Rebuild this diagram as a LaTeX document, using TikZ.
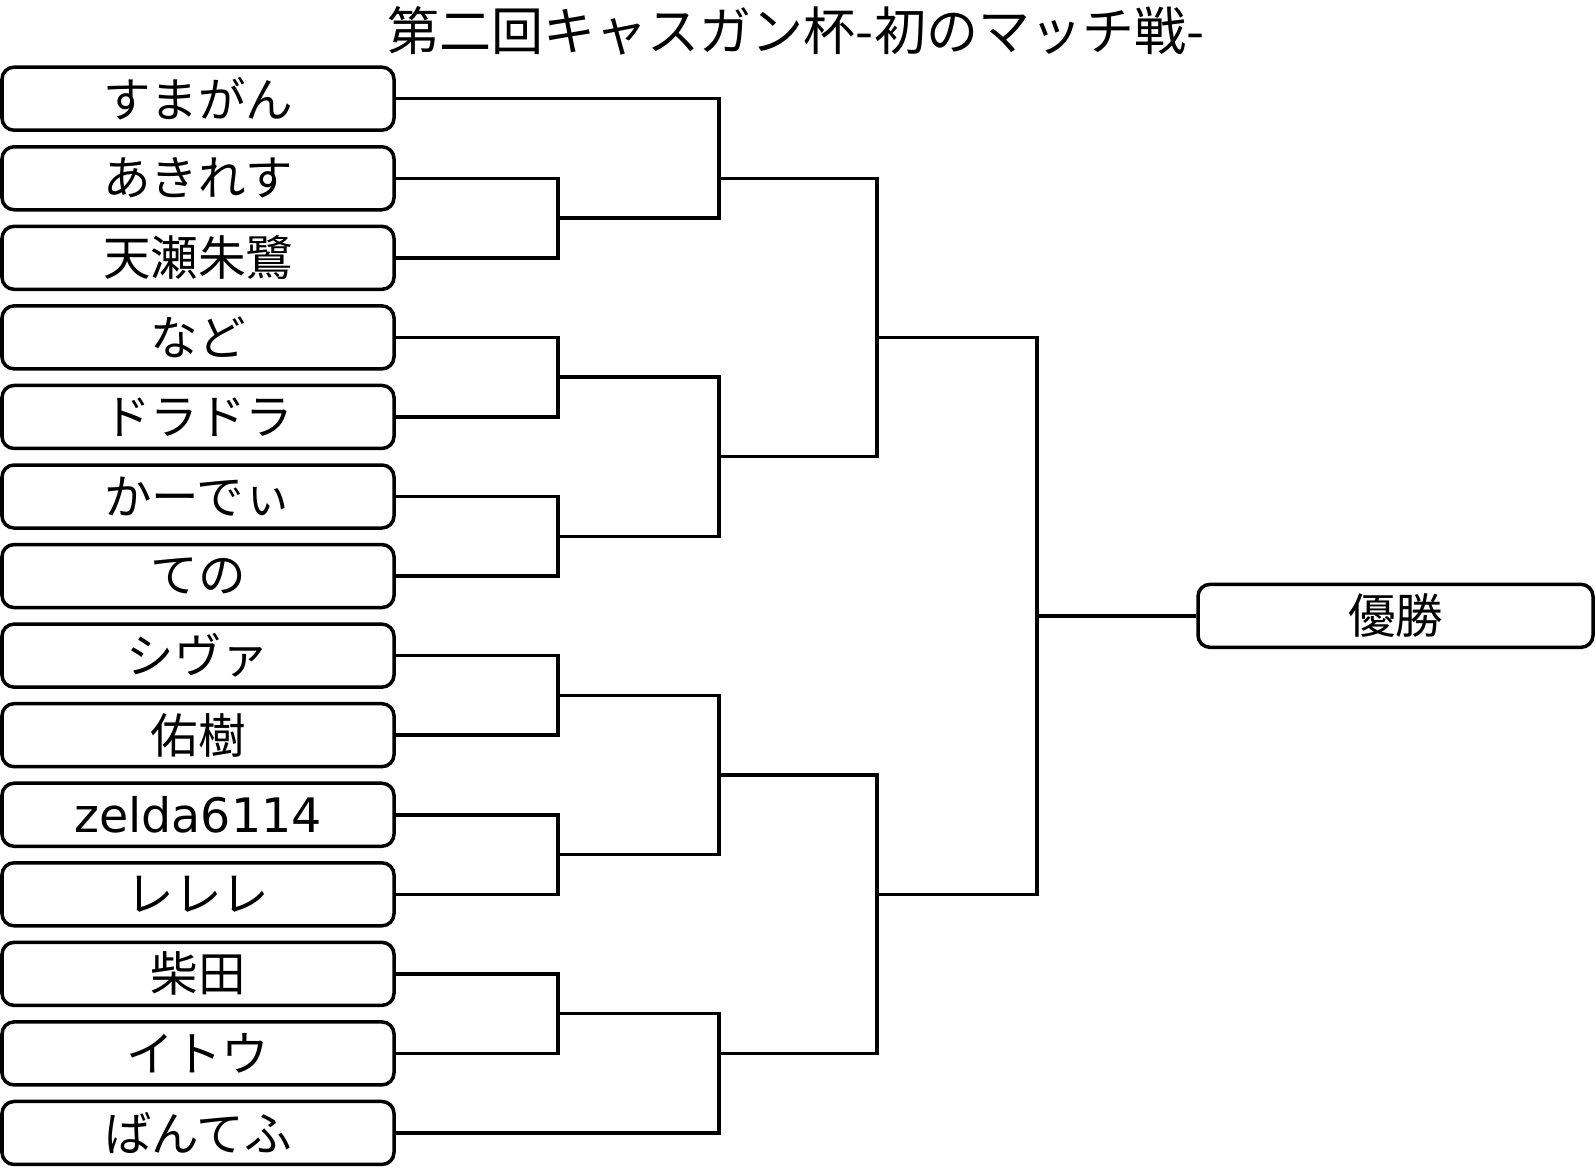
\documentclass[tikz,border=0pt]{standalone}
\usepackage{fontspec}
\setmainfont{Noto Sans CJK JP}
\newfontfamily\latinfont{DejaVu Sans}
\begin{document}
\begin{tikzpicture}[x=1pt,y=-1pt,
  player/.style={draw=black, line width=3.5pt, rounded corners=12pt, fill=white,
    minimum width=392pt, minimum height=63pt, inner sep=0pt,
    font=\fontsize{47.5}{47.5}\selectfont},
  link/.style={draw=black, line width=3.5pt, line join=miter}]
\useasboundingbox (0,0) rectangle (1596,1170);
\def\rowgap{79.56}
\def\rowzero{98.7}
\node[font=\fontsize{52}{52}\selectfont, inner sep=0pt] (title) at (796,31) {第二回キャスガン杯-初のマッチ戦-};
\foreach \i/\t in {0/すまがん,1/あきれす,2/天瀬朱鷺,3/など,4/ドラドラ,5/かーでぃ,6/ての,7/シヴァ,8/佑樹,9/{\latinfont zelda6114},10/レレレ,11/柴田,12/イトウ,13/ばんてふ}{
  \node[player] (p\i) at (198,{\rowzero+\rowgap*\i}) {\t};
}
\node[player, minimum width=395pt] (w) at (1395.5,{\rowzero+\rowgap*6.5}) {優勝};
% junctions
\coordinate (A) at (558,{\rowzero+\rowgap*1.5});
\coordinate (B) at (719,{\rowzero+\rowgap*1});
\coordinate (C) at (558,{\rowzero+\rowgap*3.5});
\coordinate (D) at (558,{\rowzero+\rowgap*5.5});
\coordinate (E) at (719,{\rowzero+\rowgap*4.5});
\coordinate (F) at (877,{\rowzero+\rowgap*3});
\coordinate (G) at (558,{\rowzero+\rowgap*7.5});
\coordinate (H) at (558,{\rowzero+\rowgap*9.5});
\coordinate (I) at (719,{\rowzero+\rowgap*8.5});
\coordinate (J) at (558,{\rowzero+\rowgap*11.5});
\coordinate (K) at (719,{\rowzero+\rowgap*12});
\coordinate (L) at (877,{\rowzero+\rowgap*10});
\coordinate (M) at (1037,{\rowzero+\rowgap*6.5});
\draw[link] (p1.east) -| (A) |- (p2.east);
\draw[link] (p0.east) -| (B) |- (A);
\draw[link] (p3.east) -| (C) |- (p4.east);
\draw[link] (p5.east) -| (D) |- (p6.east);
\draw[link] (C) -| (E) |- (D);
\draw[link] (B) -| (F) |- (E);
\draw[link] (p7.east) -| (G) |- (p8.east);
\draw[link] (p9.east) -| (H) |- (p10.east);
\draw[link] (G) -| (I) |- (H);
\draw[link] (p11.east) -| (J) |- (p12.east);
\draw[link] (J) -| (K) |- (p13.east);
\draw[link] (I) -| (L) |- (K);
\draw[link] (F) -| (M) |- (L);
\draw[link] (M) -- (w.west);
\end{tikzpicture}
\end{document}
